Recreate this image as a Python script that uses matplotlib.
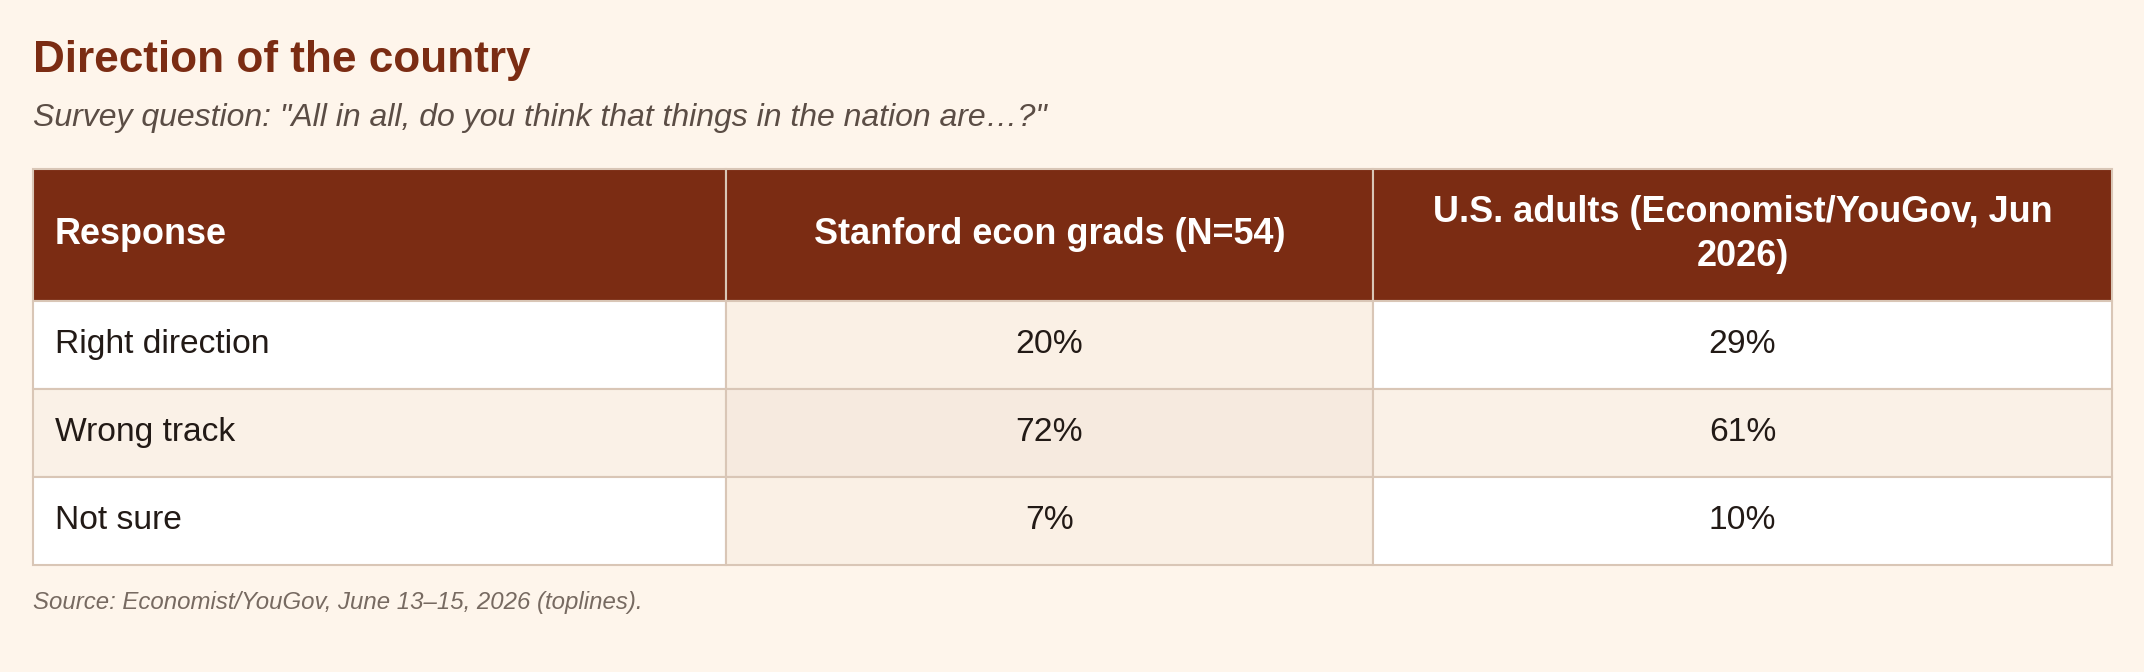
import matplotlib.pyplot as plt
from matplotlib.patches import Rectangle

plt.rcParams['font.family'] = ['Liberation Sans', 'DejaVu Sans']

title = "Direction of the country"
subtitle = 'Survey question: "All in all, do you think that things in the nation are…?"'
source = "Source: Economist/YouGov, June 13–15, 2026 (toplines)."

headers = ["Response", "Stanford econ grads (N=54)", "U.S. adults (Economist/YouGov, Jun\n2026)"]
responses = ["Right direction", "Wrong track", "Not sure"]
stanford = [20, 72, 7]
us_adults = [29, 61, 10]

bg = "#fef5eb"
brown = "#7b2c13"
border = "#d9c6b6"
plain_fill = ["#ffffff", "#faf1e7", "#ffffff"]
focus_fill = ["#faf0e5", "#f6eadf", "#faf0e5"]

W, H = 2144, 672
fig = plt.figure(figsize=(W / 100, H / 100), dpi=100, facecolor=bg)
ax = fig.add_axes([0, 0, 1, 1])
ax.set_xlim(0, W)
ax.set_ylim(H, 0)
ax.axis("off")

# table grid in pixels
col_x = [33, 726, 1373, 2112]
header_top, header_bot = 169, 301
row_h = 88

ax.text(33, 72, title, fontsize=31.8, fontweight="bold", color=brown, va="baseline")
ax.text(33, 126, subtitle, fontsize=23, style="italic", color="#5b4d45", va="baseline")

# header
for j, label in enumerate(headers):
    x0, x1 = col_x[j], col_x[j + 1]
    ax.add_patch(Rectangle((x0, header_top), x1 - x0, header_bot - header_top,
                           facecolor=brown, edgecolor=border, lw=1.5))
    lines = label.split("\n")
    gap = 43.3
    base0 = 244 - gap * (len(lines) - 1) / 2
    for k, ln in enumerate(lines):
        if j == 0:
            ax.text(x0 + 22, base0 + k * gap, ln, fontsize=25.9, fontweight="bold",
                    color="white", va="baseline", ha="left")
        else:
            ax.text((x0 + x1) / 2, base0 + k * gap, ln, fontsize=25.9, fontweight="bold",
                    color="white", va="baseline", ha="center")

# body rows
for i, resp in enumerate(responses):
    y0 = header_bot + i * row_h
    cells = [resp, f"{stanford[i]}%", f"{us_adults[i]}%"]
    for j, txt in enumerate(cells):
        x0, x1 = col_x[j], col_x[j + 1]
        fc = focus_fill[i] if j == 1 else plain_fill[i]
        ax.add_patch(Rectangle((x0, y0), x1 - x0, row_h, facecolor=fc,
                               edgecolor=border, lw=1.5))
        if j == 0:
            ax.text(x0 + 22, y0 + 52, txt, fontsize=24.2, color="#221a16",
                    va="baseline", ha="left")
        else:
            ax.text((x0 + x1) / 2, y0 + 52, txt, fontsize=24.2, color="#221a16",
                    va="baseline", ha="center")

ax.text(33, 609, source, fontsize=17.3, style="italic", color="#776a61", va="baseline")

fig.savefig("out.png", dpi=100, facecolor=bg)
